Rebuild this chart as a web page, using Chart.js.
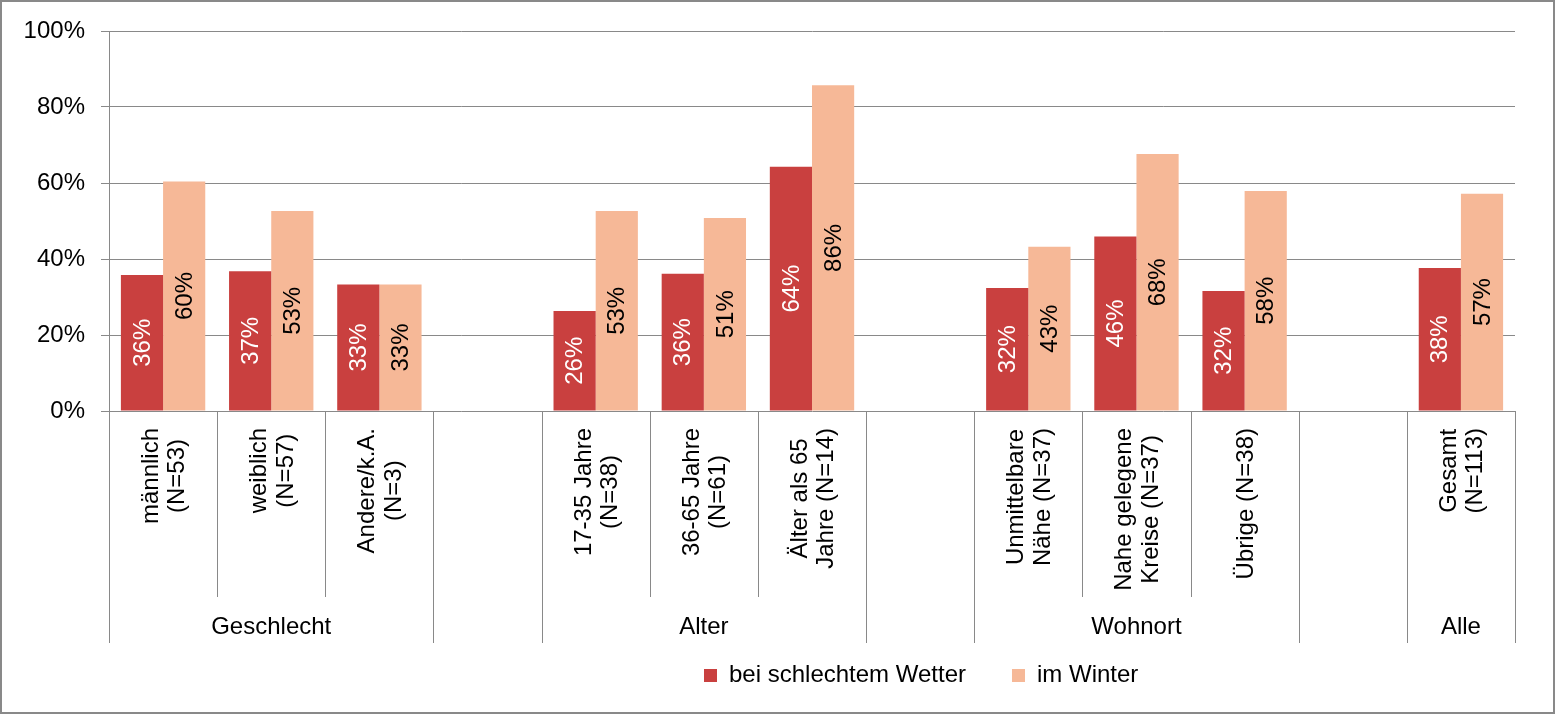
<!DOCTYPE html>
<html>
<head>
<meta charset="utf-8">
<script src="https://cdn.jsdelivr.net/npm/chart.js@4.4.0/dist/chart.umd.min.js"></script>
<style>
  html, body { margin: 0; padding: 0; background: #fff; }
  canvas { display: block; }
</style>
</head>
<body>
<canvas id="mobilityChart" width="1555" height="714"></canvas>
<script>
// categories (empty slots keep the gaps between the groups)
const categories = [
  ['männlich', '(N=53)'], ['weiblich', '(N=57)'], ['Andere/k.A.', '(N=3)'], '',
  ['17-35 Jahre', '(N=38)'], ['36-65 Jahre', '(N=61)'], ['Älter als 65', 'Jahre (N=14)'], '',
  ['Unmittelbare', 'Nähe (N=37)'], ['Nahe gelegene', 'Kreise (N=37)'], ['Übrige (N=38)'], '',
  ['Gesamt', '(N=113)']
];
const groupNames = ['Geschlecht', '', 'Alter', '', 'Wohnort', '', 'Alle'];
const groupSizes = [3, 1, 3, 1, 3, 1, 1];

const seriesNames = ['bei schlechtem Wetter', 'im Winter'];
const badWeather = [35.8, 36.8, 33.3, null, 26.3, 36.1, 64.3, null, 32.4, 45.9, 31.6, null, 37.6];
const winter     = [60.4, 52.6, 33.3, null, 52.6, 50.8, 85.7, null, 43.2, 67.6, 57.9, null, 57.2];

const yMax = 100;
const yStep = 20;

const FONT = '"Liberation Sans", Arial, sans-serif';
const LINE = '#898989';
const RED = '#C9403F';
const SALMON = '#F6B897';

// draws value labels, category/group labels, separators, legend and frame
const decorations = {
  id: 'decorations',
  afterDatasetsDraw(chart) {
    const ctx = chart.ctx;
    ctx.save();
    ctx.font = '24px ' + FONT;
    ctx.textAlign = 'center';
    ctx.textBaseline = 'middle';
    chart.data.datasets.forEach((ds, di) => {
      chart.getDatasetMeta(di).data.forEach((bar, i) => {
        const v = ds.data[i];
        if (v == null) return;
        const { x, y, base } = bar.getProps(['x', 'y', 'base'], true);
        ctx.save();
        ctx.translate(x, (y + base) / 2);
        ctx.rotate(-Math.PI / 2);
        ctx.fillStyle = di === 0 ? '#ffffff' : '#000000';
        ctx.fillText(Math.round(v) + '%', 0, 1);
        ctx.restore();
      });
    });
    ctx.restore();
  },
  afterDraw(chart) {
    const ctx = chart.ctx;
    const xs = chart.scales.x;
    const area = chart.chartArea;
    const step = xs.getPixelForValue(1) - xs.getPixelForValue(0);
    const edge = i => xs.getPixelForValue(i) - step / 2;

    ctx.save();
    ctx.strokeStyle = LINE;
    ctx.lineWidth = 1;

    // separators below the axis
    const groupEdges = new Set([0]);
    let acc = 0;
    groupSizes.forEach(n => { acc += n; groupEdges.add(acc); });
    for (let k = 0; k <= categories.length; k++) {
      const x = Math.round(edge(k)) + 0.5;
      const len = groupEdges.has(k) ? 232 : 186;
      ctx.beginPath();
      ctx.moveTo(x, area.bottom);
      ctx.lineTo(x, area.bottom + len);
      ctx.stroke();
    }

    // category labels, rotated
    ctx.fillStyle = '#000';
    ctx.font = '24px ' + FONT;
    ctx.textAlign = 'center';
    ctx.textBaseline = 'middle';
    categories.forEach((cat, i) => {
      const lines = Array.isArray(cat) ? cat : [cat];
      if (!lines[0]) return;
      const maxW = Math.max(...lines.map(l => ctx.measureText(l).width));
      ctx.save();
      ctx.translate(xs.getPixelForValue(i), area.bottom + 17);
      ctx.rotate(-Math.PI / 2);
      lines.forEach((l, j) => {
        ctx.fillText(l, -maxW / 2, (j - (lines.length - 1) / 2) * 26.5 + 1.5);
      });
      ctx.restore();
    });

    // group labels
    let start = 0;
    groupNames.forEach((g, gi) => {
      const end = start + groupSizes[gi];
      if (g) ctx.fillText(g, (edge(start) + edge(end)) / 2, area.bottom + 216);
      start = end;
    });

    // legend
    const colors = [RED, SALMON];
    let lx = 704;
    const ly = 675.5;
    ctx.textAlign = 'left';
    seriesNames.forEach((name, si) => {
      ctx.fillStyle = colors[si];
      ctx.fillRect(lx, ly - 6.5, 13, 13);
      ctx.fillStyle = '#000';
      ctx.fillText(name, lx + 25, ly);
      lx += 25 + ctx.measureText(name).width + 46;
    });

    // outer frame
    ctx.strokeStyle = LINE;
    ctx.lineWidth = 2;
    ctx.strokeRect(1, 1, chart.width - 2, chart.height - 2);
    ctx.restore();
  }
};

const ctx = document.getElementById('mobilityChart').getContext('2d');

new Chart(ctx, {
  type: 'bar',
  data: {
    labels: categories,
    datasets: [
      { label: seriesNames[0], data: badWeather, backgroundColor: RED,
        categoryPercentage: 0.78, barPercentage: 1.0 },
      { label: seriesNames[1], data: winter, backgroundColor: SALMON,
        categoryPercentage: 0.78, barPercentage: 1.0 }
    ]
  },
  options: {
    responsive: false,
    animation: false,
    devicePixelRatio: 1,
    layout: { padding: { left: 0, top: 31, right: 40, bottom: 303 } },
    plugins: {
      legend: { display: false },
      tooltip: { enabled: false }
    },
    scales: {
      x: { display: false },
      y: {
        min: 0,
        max: yMax,
        afterFit(scale) { scale.width = 109; },
        ticks: {
          stepSize: yStep,
          padding: 16,
          color: '#000',
          font: { size: 24, family: FONT },
          callback: v => v + '%'
        },
        grid: { color: LINE, tickLength: 8 },
        border: { color: LINE }
      }
    }
  },
  plugins: [decorations]
});
</script>
</body>
</html>
